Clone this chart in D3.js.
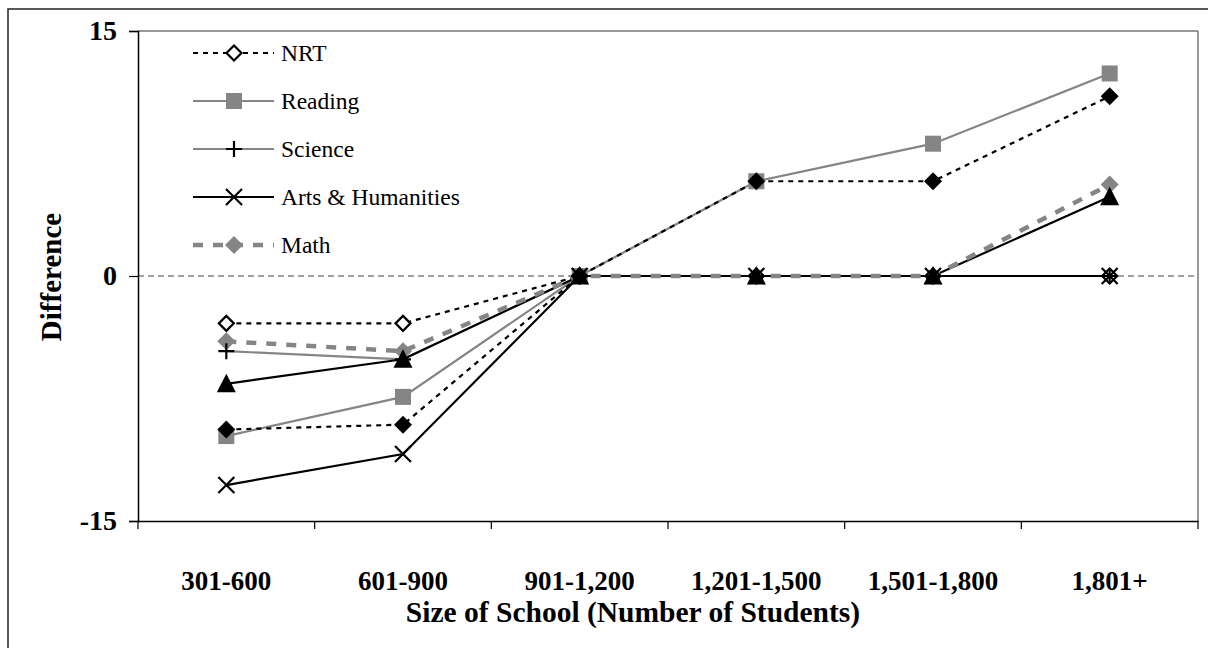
<meta charset="utf-8">
<script src="https://d3js.org/d3.v7.min.js"></script>
<div id="chart"></div>
<script>
  // chart values
  const categories = ['301-600', '601-900', '901-1,200', '1,201-1,500', '1,501-1,800', '1,801+'];
  const yTicks = [-15, 0, 15];
  const nrt = [-2.9, -2.9, 0, 0, 0, 0];
  const reading = [-9.8, -7.4, 0, 5.8, 8.1, 12.4];
  const science = [-4.6, -5.1, 0, 0, 0, 0];
  const arts = [-12.8, -10.9, 0, 0, 0, 0];
  const math = [-4.0, -4.6, 0, 0, 0, 5.6];
  const unlabeledDiamond = [-9.4, -9.1, 0, 5.8, 5.8, 11.0];
  const unlabeledTriangle = [-6.6, -5.1, 0, 0, 0, 4.85];

  const W = 1208, H = 648;
  const plotL = 138, plotR = 1198, plotT = 31, plotB = 521;
  const GRAY = '#858585';
  const SERIF = '"Liberation Serif", "Times New Roman", serif';

  const svg = d3.select('#chart').append('svg')
    .attr('width', W).attr('height', H)
    .style('display', 'block');
  d3.select('body').style('margin', 0).style('background', '#fff');

  const x = d3.scaleBand().domain(categories).range([plotL, plotR]);
  const y = d3.scaleLinear().domain([-15, 15]).range([plotB, plotT]);
  const cx = c => x(c) + x.bandwidth() / 2;

  // outer chart border
  svg.append('rect').attr('x', 8).attr('y', 9).attr('width', W).attr('height', H)
    .attr('fill', 'none').attr('stroke', '#222').attr('stroke-width', 1.5);

  // plot frame (top and right)
  svg.append('line').attr('x1', plotL).attr('x2', plotR).attr('y1', plotT).attr('y2', plotT)
    .attr('stroke', '#333').attr('stroke-width', 1.2);
  svg.append('line').attr('x1', plotR).attr('x2', plotR).attr('y1', plotT).attr('y2', plotB)
    .attr('stroke', '#777').attr('stroke-width', 1.5);

  // zero reference line
  svg.append('line').attr('x1', plotL).attr('x2', plotR).attr('y1', y(0)).attr('y2', y(0))
    .attr('stroke', '#444').attr('stroke-width', 1).attr('stroke-dasharray', '6,4');

  // axes
  const yAxis = svg.append('g').attr('transform', `translate(${plotL},0)`)
    .call(d3.axisLeft(y).tickValues(yTicks).tickSize(9).tickPadding(12).tickFormat(d => String(d)));
  const xAxis = svg.append('g').attr('transform', `translate(0,${plotB})`)
    .call(d3.axisBottom(x).tickSize(0).tickPadding(0).tickFormat(''));
  [yAxis, xAxis].forEach(a => {
    a.attr('font-family', SERIF);
    a.select('.domain').attr('stroke', '#000').attr('stroke-width', 1.5);
    a.selectAll('line').attr('stroke', '#000').attr('stroke-width', 1.2);
  });
  yAxis.selectAll('text').attr('font-size', 28).attr('font-weight', 'bold')
    .attr('font-family', SERIF).attr('fill', '#000');

  // category boundary ticks
  const bounds = categories.map(c => x(c)).concat([plotR]);
  xAxis.selectAll('.bound').data(bounds).enter().append('line')
    .attr('x1', d => d).attr('x2', d => d).attr('y1', 0).attr('y2', 8)
    .attr('stroke', '#000').attr('stroke-width', 1.2);

  xAxis.selectAll('.lbl').data(categories).enter().append('text')
    .attr('x', d => cx(d)).attr('y', 69)
    .attr('text-anchor', 'middle').attr('font-size', 27).attr('font-weight', 'bold')
    .attr('font-family', SERIF).attr('fill', '#000').text(d => d);

  svg.append('text').attr('x', 633).attr('y', 622)
    .attr('text-anchor', 'middle').attr('font-size', 29.5).attr('font-weight', 'bold')
    .attr('font-family', SERIF)
    .text('Size of School (Number of Students)');
  svg.append('text').attr('transform', 'translate(61,277) rotate(-90)')
    .attr('text-anchor', 'middle').attr('font-size', 29).attr('font-weight', 'bold')
    .attr('font-family', SERIF)
    .text('Difference');

  // series styles
  const series = [
    {name: 'Reading', values: reading, stroke: GRAY, width: 2.2, dash: null, marker: 'square', fill: GRAY},
    {name: 'Science', values: science, stroke: GRAY, width: 2.2, dash: null, marker: 'plus', fill: '#000'},
    {name: 'NRT', values: nrt, stroke: '#000', width: 2.2, dash: '5,5', marker: 'diamond', fill: '#fff'},
    {name: 'unlabeledDiamond', values: unlabeledDiamond, stroke: '#000', width: 2.2, dash: '5,5', marker: 'diamond', fill: '#000'},
    {name: 'Arts & Humanities', values: arts, stroke: '#000', width: 2.2, dash: null, marker: 'cross', fill: '#000'},
    {name: 'unlabeledTriangle', values: unlabeledTriangle, stroke: '#000', width: 2.2, dash: null, marker: 'triangle', fill: '#000'},
    {name: 'Math', values: math, stroke: GRAY, width: 4.5, dash: '10,10', marker: 'diamond', fill: GRAY}
  ];
  const markerOrder = ['Reading', 'Math', 'NRT', 'Science', 'Arts & Humanities', 'unlabeledDiamond', 'unlabeledTriangle'];

  function drawMarker(g, s, px, py) {
    if (s.marker === 'square') {
      g.append('rect').attr('x', px - 8).attr('y', py - 8).attr('width', 16).attr('height', 16).attr('fill', s.fill);
    } else if (s.marker === 'diamond') {
      const open = s.fill === '#fff';
      const r = open ? 7.5 : 9;
      g.append('path').attr('d', `M${px},${py - r}L${px + r},${py}L${px},${py + r}L${px - r},${py}Z`)
        .attr('fill', s.fill).attr('stroke', open ? '#000' : 'none').attr('stroke-width', 2.2);
    } else if (s.marker === 'triangle') {
      g.append('path').attr('d', `M${px},${py - 10}L${px + 9.5},${py + 8.5}L${px - 9.5},${py + 8.5}Z`).attr('fill', s.fill);
    } else if (s.marker === 'plus') {
      g.append('path').attr('d', `M${px - 8},${py}H${px + 8}M${px},${py - 8}V${py + 8}`)
        .attr('stroke', '#000').attr('stroke-width', 2.2);
    } else if (s.marker === 'cross') {
      g.append('path').attr('d', `M${px - 8},${py - 8}L${px + 8},${py + 8}M${px + 8},${py - 8}L${px - 8},${py + 8}`)
        .attr('stroke', '#000').attr('stroke-width', 2.2);
    }
  }

  const line = d3.line().x((d, i) => cx(categories[i])).y(d => y(d));
  series.forEach(s => {
    svg.append('path').datum(s.values).attr('d', line)
      .attr('fill', 'none').attr('stroke', s.stroke).attr('stroke-width', s.width)
      .attr('stroke-dasharray', s.dash);
  });
  const mg = svg.append('g');
  markerOrder.forEach(n => {
    const s = series.find(t => t.name === n);
    s.values.forEach((v, i) => drawMarker(mg, s, cx(categories[i]), y(v)));
  });

  // legend (five named series only)
  const legendItems = ['NRT', 'Reading', 'Science', 'Arts & Humanities', 'Math'];
  const lg = svg.append('g');
  legendItems.forEach((n, i) => {
    const s = series.find(t => t.name === n);
    const ly = 53 + i * 48;
    lg.append('line').attr('x1', 193).attr('x2', 274).attr('y1', ly).attr('y2', ly)
      .attr('stroke', s.stroke).attr('stroke-width', s.width).attr('stroke-dasharray', s.dash);
    drawMarker(lg, s, 234, ly);
    lg.append('text').attr('x', 281).attr('y', ly + 8).attr('font-size', 23.5)
      .attr('font-family', SERIF).text(n);
  });
</script>
